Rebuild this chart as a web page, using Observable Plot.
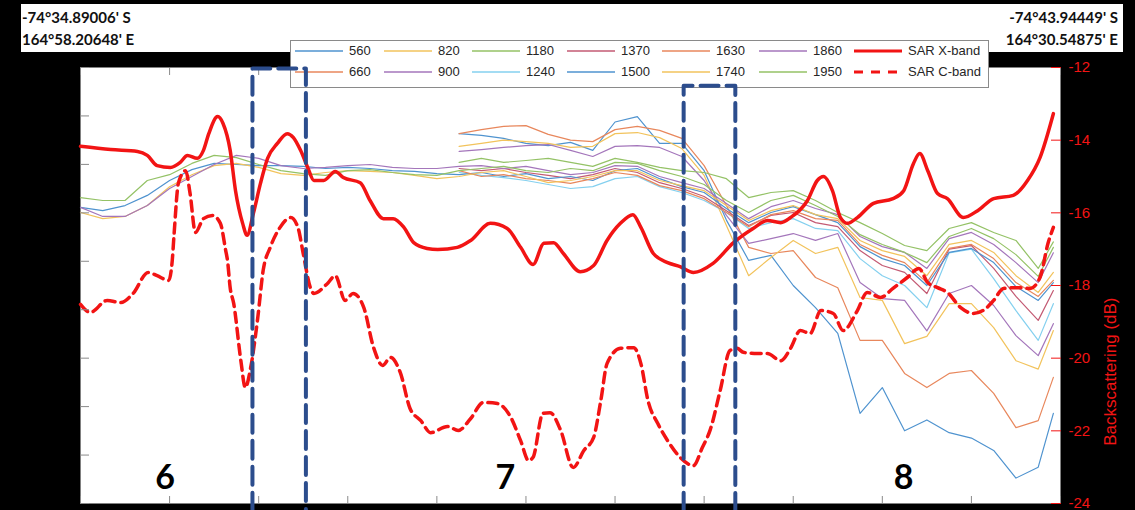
<!DOCTYPE html>
<html><head><meta charset="utf-8">
<script src="https://cdn.jsdelivr.net/npm/d3@7"></script>
<script src="https://cdn.jsdelivr.net/npm/@observablehq/plot@0.6"></script>
<style>
html,body{margin:0;padding:0;background:#000;}
#wrap{position:relative;width:1135px;height:510px;overflow:hidden;background:#000;}
#band{position:absolute;left:21px;top:4px;width:1102px;height:48px;background:#fff;}
.coord{position:absolute;top:6px;font-family:Lato,"Open Sans",sans-serif;font-weight:700;font-size:15px;line-height:22px;color:#111;white-space:nowrap;}
#chart,#overlay{position:absolute;left:0;top:0;}
#legend{position:absolute;left:290px;top:40px;width:697px;height:46px;background:#fff;border:1px solid #8a8a8a;font-family:"Liberation Sans",Arial,sans-serif;font-size:13px;color:#262626;}
.li{position:absolute;height:16px;line-height:16px;}
</style></head>
<body>
<div id="wrap">
  <div id="band"></div>
  <div class="coord" id="cStart" style="left:22px;"></div>
  <div class="coord" id="cEnd" style="right:17px;text-align:right;"></div>
  <div id="chart"></div>
  <div id="legend"></div>
  <div id="overlay"></div>
</div>
<script>
// ---------- text ----------
const startCoord = ["-74°34.89006' S", "164°58.20648' E"];
const endCoord = ["-74°43.94449' S", "164°30.54875' E"];
const sectionLabels = ["6", "7", "8"];
const sectionX = [0.95, 4.77, 9.24];
const sectionY = [-23.3, -23.3, -23.3];
const yLabel = "Backscattering (dB)";

// ---------- axes ----------
const xTicks = [0,1,2,3,4,5,6,7,8,9,10,11];
const dbTicks = [-12,-14,-16,-18,-20,-22,-24];
const leftTicks = [-12,-13.333,-14.667,-16,-17.333,-18.667,-20,-21.333,-22.667,-24];

// ---------- SAR X-band ----------
const xbandX = [0,0.34,0.64,0.75,0.86,1.01,1.12,1.2,1.31,1.38,1.44,1.54,1.6,1.68,1.74,1.82,1.87,1.94,2.02,2.1,2.21,2.32,2.39,2.47,2.55,2.62,2.73,2.86,2.95,3.14,3.25,3.4,3.51,3.63,3.74,3.89,4.01,4.23,4.38,4.6,4.79,4.94,5.08,5.2,5.31,5.42,5.61,5.76,5.91,6.06,6.2,6.29,6.43,6.59,6.73,6.88,7.1,7.33,7.55,7.71,7.86,7.97,8.16,8.27,8.34,8.44,8.53,8.61,8.72,8.9,9.12,9.24,9.35,9.42,9.51,9.62,9.73,9.91,10.07,10.25,10.47,10.63,10.77,10.92];
const xbandDb = [-14.17,-14.26,-14.31,-14.42,-14.7,-14.75,-14.61,-14.42,-14.5,-14.28,-13.82,-13.35,-13.54,-14.28,-15.39,-16.29,-16.62,-16.02,-15.19,-14.5,-14.09,-13.82,-13.93,-14.28,-14.75,-15.11,-15.11,-14.86,-15.03,-15.17,-15.66,-16.16,-16.16,-16.4,-16.82,-16.98,-17.01,-16.95,-16.76,-16.29,-16.43,-16.95,-17.42,-16.84,-16.82,-17.12,-17.62,-17.45,-16.76,-16.29,-16.05,-16.4,-17.12,-17.37,-17.48,-17.64,-17.39,-16.82,-16.43,-16.21,-16.27,-16.13,-15.66,-15.11,-15.0,-15.39,-16.13,-16.29,-16.13,-15.74,-15.61,-15.39,-14.64,-14.37,-14.84,-15.47,-15.61,-16.13,-15.94,-15.61,-15.52,-15.11,-14.48,-13.27];

// ---------- SAR C-band ----------
const cbandX = [0,0.11,0.3,0.45,0.59,0.76,0.86,0.99,1.03,1.05,1.1,1.18,1.23,1.29,1.38,1.48,1.57,1.63,1.65,1.68,1.72,1.8,1.85,1.91,1.99,2.05,2.13,2.24,2.36,2.44,2.5,2.58,2.62,2.77,2.86,2.97,3.06,3.18,3.29,3.39,3.48,3.59,3.7,3.82,3.93,4.12,4.24,4.38,4.52,4.68,4.83,4.94,5.03,5.08,5.19,5.27,5.39,5.53,5.65,5.76,5.84,5.91,6.06,6.21,6.29,6.37,6.48,6.59,6.73,6.88,6.98,7.07,7.18,7.29,7.37,7.44,7.6,7.71,7.86,7.97,8.08,8.19,8.31,8.45,8.56,8.72,8.83,8.98,9.12,9.28,9.41,9.51,9.62,9.73,9.88,10.02,10.13,10.25,10.36,10.52,10.66,10.77,10.86,10.92];
const cbandDb = [-18.52,-18.74,-18.41,-18.47,-18.22,-17.64,-17.73,-17.86,-17.31,-16.6,-15.17,-14.84,-15.47,-16.54,-16.16,-16.07,-16.29,-17.04,-17.31,-18.06,-18.5,-20.07,-20.81,-20.26,-18.88,-17.59,-16.95,-16.4,-16.13,-16.4,-17.12,-18.06,-18.22,-17.95,-17.73,-18.41,-18.22,-18.61,-19.71,-20.2,-19.98,-20.4,-21.39,-21.72,-22.05,-21.88,-21.99,-21.66,-21.22,-21.25,-21.63,-22.27,-22.82,-22.73,-21.52,-21.5,-21.99,-23.01,-22.54,-22.18,-21.17,-20.15,-19.73,-19.71,-20.15,-21.17,-21.8,-22.27,-22.73,-22.96,-22.46,-21.96,-20.89,-19.79,-19.73,-19.84,-19.87,-19.87,-20.07,-19.73,-19.24,-19.32,-18.69,-18.77,-19.24,-18.69,-18.19,-18.33,-18.08,-17.78,-17.53,-17.92,-18.06,-18.19,-18.61,-18.77,-18.69,-18.41,-18.08,-18.06,-18.08,-17.78,-16.84,-16.4];

// ---------- spectral bands (sampled every 0.25 km, last at 10.92) ----------
const gridX = d3.range(0, 10.8, 0.25).concat([10.92]);
const wavelengths = ["560","660","820","900","1180","1240","1370","1500","1630","1740","1860","1950"];
const bandColors = ["#4f93cf","#e8875c","#f2c35c","#a476bb","#94c266","#84d0ef","#c35a73","#4f93cf","#e8875c","#f2c35c","#a476bb","#94c266"];
const N17 = [null,null,null,null,null,null,null,null,null,null,null,null,null,null,null,null,null];
const b560 = N17.concat([-13.82,-13.87,-13.95,-14.09,-14.15,-14.06,-14.28,-13.5,-13.35,-14.09,-14.09,-14.84,-16.2,-17.31,
  -17.17,-18.0,-18.61,-19.32,-21.52,-20.81,-22.0,-21.7,-22.05,-22.2,-22.54,-23.3,-23.0,-21.52]);
const b660 = N17.concat([-13.82,-13.71,-13.62,-13.6,-13.84,-14.0,-14.04,-13.71,-13.62,-13.73,-13.95,-14.7,-15.8,-16.95,
  -17.12,-17.04,-17.78,-18.06,-19.51,-19.51,-20.42,-20.81,-20.42,-20.34,-20.97,-21.91,-21.72,-20.53]);
const b820 = N17.concat([-14.17,-14.09,-14.0,-14.04,-14.09,-14.2,-14.17,-13.82,-13.79,-13.93,-14.23,-14.97,-16.35,-17.73,
  -17.23,-16.76,-17.12,-16.95,-18.33,-18.41,-19.6,-19.4,-18.5,-18.5,-19.16,-20.07,-20.3,-19.24]);
const b900 = N17.concat([-14.31,-14.26,-14.2,-14.15,-14.12,-14.28,-14.45,-14.17,-14.15,-14.2,-14.45,-15.11,-16.07,-16.84,
  -16.71,-16.57,-16.76,-16.57,-17.92,-18.36,-18.41,-19.25,-18.22,-18.0,-18.55,-19.38,-19.93,-19.05]);
const b1180 = N17.concat([-14.61,-14.5,-14.61,-14.56,-14.5,-14.61,-14.72,-14.5,-14.61,-14.75,-14.84,-14.89,-15.06,-15.58,
  -15.44,-15.39,-15.66,-15.99,-16.27,-16.57,-16.9,-17.04,-16.43,-16.27,-16.54,-16.76,-17.53,-16.8]);
const b1240 = N17.concat([-14.89,-14.97,-15.03,-15.11,-15.22,-15.33,-15.28,-15.06,-15.0,-15.28,-15.44,-15.66,-15.99,-16.43,
  -16.27,-16.16,-16.43,-16.49,-17.26,-17.73,-18.0,-18.61,-17.1,-17.0,-17.81,-18.69,-19.51,-18.5]);
const b1370 = N17.concat([-14.78,-14.84,-14.78,-14.89,-14.97,-15.06,-14.95,-14.78,-14.89,-15.17,-15.33,-15.55,-15.94,-16.35,
  -16.07,-15.99,-16.27,-16.38,-17.04,-17.45,-17.64,-18.22,-17.0,-16.9,-17.53,-18.3,-18.96,-18.14]);
const b1500 = [-15.85,-15.94,-15.8,-15.52,-15.11,-14.81,-14.64,-14.67,-14.7,-14.7,-14.72,-14.78,-14.75,-14.78,-14.84,-14.86,-14.92,
  -14.95,-14.89,-15.0,-14.92,-15.06,-15.0,-15.11,-14.84,-14.78,-15.06,-15.28,-15.44,-15.88,-16.27,
  -15.99,-15.83,-16.05,-16.27,-16.93,-17.26,-17.45,-18.0,-17.09,-16.98,-17.37,-18.03,-18.41,-17.92];
const b1630 = N17.concat([-14.84,-15.0,-14.95,-15.06,-15.11,-15.19,-15.06,-14.89,-14.97,-15.25,-15.39,-15.61,-15.99,-16.38,
  -16.05,-15.94,-16.16,-16.21,-16.87,-17.17,-17.37,-17.92,-16.98,-16.87,-17.26,-17.92,-18.3,-17.86]);
const b1740 = [-15.99,-16.16,-16.1,-15.8,-15.28,-14.95,-14.7,-14.64,-14.75,-14.92,-14.97,-14.89,-14.84,-14.86,-14.89,-14.97,-15.06,
  -15.0,-14.89,-14.84,-15.0,-15.17,-15.11,-15.0,-14.84,-14.84,-15.11,-15.25,-15.39,-15.8,-16.21,
  -15.94,-15.8,-16.05,-16.16,-16.76,-17.04,-17.2,-17.73,-16.87,-16.76,-17.09,-17.73,-18.19,-17.64];
const b1860 = [-15.85,-16.1,-16.1,-15.8,-15.33,-15.0,-14.67,-14.42,-14.5,-14.7,-14.78,-14.75,-14.7,-14.67,-14.75,-14.78,-14.78,
  -14.72,-14.7,-14.78,-14.72,-14.84,-14.95,-14.89,-14.7,-14.72,-15.0,-15.17,-15.33,-15.74,-16.16,
  -15.83,-15.66,-15.88,-16.05,-16.65,-16.93,-17.09,-17.53,-16.71,-16.54,-16.87,-17.37,-17.92,-17.1];
const b1950 = [-15.58,-15.66,-15.66,-15.11,-14.95,-14.64,-14.42,-14.48,-14.67,-14.84,-14.92,-14.97,-14.84,-14.81,-14.89,-14.95,-14.97,
  -14.84,-14.78,-14.72,-14.84,-14.89,-14.78,-14.84,-14.61,-14.64,-14.84,-15.0,-15.22,-15.66,-15.99,
  -15.66,-15.52,-15.8,-16.1,-16.6,-16.87,-17.09,-17.37,-16.65,-16.43,-16.71,-17.15,-17.75,-16.95];
const bandValues = [b560,b660,b820,b900,b1180,b1240,b1370,b1500,b1630,b1740,b1860,b1950];

// ---------- study-zone boxes ----------
const boxNames = ["A","B"];
const boxLeft = [1.93, 6.77];
const boxRight = [2.53, 7.35];
const boxTop = [-12.03, -12.5];
const boxBottom = -24.2;

// ---------- colours ----------
const red = "#f21414";
const boxBlue = "#2c4d8d";

// ---------- build tables ----------
const spectralRows = [];
wavelengths.forEach((w, i) => bandValues[i].forEach((v, k) => spectralRows.push({band: w, x: gridX[k], y: v})));
const xband = xbandX.map((x, i) => ({x, y: xbandDb[i]}));
const cband = cbandX.map((x, i) => ({x, y: cbandDb[i]}));
const sections = sectionLabels.map((t, i) => ({label: t, x: sectionX[i], y: sectionY[i]}));
const boxPath = [];
boxNames.forEach((b, i) => {
  boxPath.push({box: b, x: boxLeft[i], y: boxBottom});
  boxPath.push({box: b, x: boxLeft[i], y: boxTop[i]});
  boxPath.push({box: b, x: boxRight[i], y: boxTop[i]});
  boxPath.push({box: b, x: boxRight[i], y: boxBottom});
});

document.getElementById("cStart").innerHTML = startCoord.join("<br>");
document.getElementById("cEnd").innerHTML = endCoord.join("<br>");

const common = {
  width: 1135, height: 510,
  marginLeft: 80, marginRight: 75, marginTop: 67, marginBottom: 7,
  style: {background: "transparent", overflow: "visible"}
};

const chart = Plot.plot({
  ...common,
  x: {domain: [0, 11]},
  y: {domain: [-24, -12]},
  color: {domain: wavelengths, range: bandColors},
  marks: [
    Plot.frame({fill: "white", stroke: "none"}),
    Plot.line(spectralRows, {x: "x", y: "y", z: "band", stroke: "band", strokeWidth: 1.2}),
    Plot.line(xband, {x: "x", y: "y", stroke: red, strokeWidth: 3.5, curve: "monotone-x"}),
    Plot.line(cband, {x: "x", y: "y", stroke: red, strokeWidth: 3.5, strokeDasharray: "10,6", curve: "monotone-x"}),
    Plot.axisY({anchor: "left", ticks: leftTicks, tickSize: -9, tickFormat: () => "", stroke: "#8a8a8a", label: null}),
    Plot.axisX({anchor: "bottom", ticks: xTicks, tickSize: -7, tickFormat: () => "", stroke: "#8a8a8a", label: null}),
    Plot.axisX({anchor: "top", ticks: xTicks, tickSize: -7, tickFormat: () => "", stroke: "#8a8a8a", label: null}),
    Plot.axisY({anchor: "right", ticks: dbTicks, tickSize: -10, tickPadding: 18, tickFormat: d => String(d),
      color: red, line: true, fontSize: 15, fontFamily: "Liberation Sans", label: null}),
    Plot.text([yLabel], {text: d => d, frameAnchor: "right", rotate: -90, dx: 50, dy: 12,
      fill: red, fontSize: 17, fontFamily: "Liberation Sans"}),
    Plot.text(sections, {x: "x", y: "y", text: "label", fontSize: 34, fontWeight: "bold", fontFamily: "Lato", fill: "#000"})
  ]
});
document.getElementById("chart").append(chart);

// ---------- legend ----------
const legendEntries = wavelengths.map((w, i) => ({label: w, color: bandColors[i], width: 1.3, dash: null}))
  .concat([{label: "SAR X-band", color: red, width: 3, dash: null}, {label: "SAR C-band", color: red, width: 3, dash: "9,8"}]);
const legendLabelLeft = [58, 147, 235, 330, 425, 522, 617];
const legendRowCenter = [10, 31];
const legend = document.getElementById("legend");
legendEntries.forEach((e, i) => {
  const col = Math.floor(i / 2), row = i % 2;
  const lx = legendLabelLeft[col], cy = legendRowCenter[row];
  const sw = document.createElementNS("http://www.w3.org/2000/svg", "svg");
  sw.setAttribute("width", 48); sw.setAttribute("height", 8);
  sw.style.position = "absolute"; sw.style.left = (lx - 54) + "px"; sw.style.top = (cy - 4) + "px";
  const ln = document.createElementNS("http://www.w3.org/2000/svg", "line");
  ln.setAttribute("x1", 0); ln.setAttribute("x2", 48); ln.setAttribute("y1", 4); ln.setAttribute("y2", 4);
  ln.setAttribute("stroke", e.color); ln.setAttribute("stroke-width", e.width);
  if (e.dash) ln.setAttribute("stroke-dasharray", e.dash);
  sw.append(ln);
  legend.append(sw);
  const t = document.createElement("div");
  t.className = "li"; t.textContent = e.label;
  t.style.left = lx + "px"; t.style.top = (cy - 8) + "px";
  legend.append(t);
});

// ---------- overlay with dashed study-zone boxes (drawn above the legend) ----------
const overlay = Plot.plot({
  ...common,
  x: {domain: [0, 11], axis: null},
  y: {domain: [-24, -12], axis: null},
  marks: [
    Plot.line(boxPath, {x: "x", y: "y", z: "box", stroke: boxBlue, strokeWidth: 4, strokeDasharray: "18,8"})
  ]
});
document.getElementById("overlay").append(overlay);
</script>
</body></html>
